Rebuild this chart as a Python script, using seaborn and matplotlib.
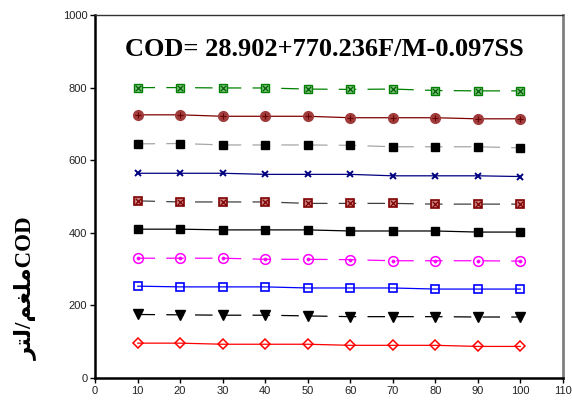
import matplotlib
matplotlib.use("Agg")
import matplotlib.pyplot as plt
import seaborn as sns
import numpy as np

# ---- data ----
x_vals = [10, 20, 30, 40, 50, 60, 70, 80, 90, 100]
s_green = [800, 800, 799, 799, 796, 795, 796, 792, 791, 791]
s_darkred_circle = [725, 725, 721, 721, 721, 717, 717, 717, 714, 714]
s_black_gray = [645, 646, 642, 642, 642, 641, 637, 637, 637, 634]
s_navy_x = [564, 564, 564, 561, 561, 561, 557, 557, 557, 555]
s_darkred_box = [488, 485, 485, 485, 481, 481, 481, 479, 479, 479]
s_black_solid = [410, 410, 408, 408, 408, 405, 405, 405, 402, 402]
s_magenta = [330, 330, 330, 327, 327, 326, 323, 323, 323, 322]
s_blue_square = [253, 251, 251, 251, 248, 248, 248, 245, 245, 245]
s_triangle = [175, 174, 173, 173, 171, 169, 169, 169, 168, 168]
s_diamond = [96, 96, 93, 93, 93, 90, 90, 90, 87, 87]

x_ticks = [0, 10, 20, 30, 40, 50, 60, 70, 80, 90, 100, 110]
y_ticks = [0, 200, 400, 600, 800, 1000]
title_text = "COD= 28.902+770.236F/M-0.097SS"
# y label (Arabic in visual order, presentation forms) + COD
ylabel_text = "\uFEAE\uFE98\uFEDF/\uFEE2\uFED0\uFEE0\uFEE3COD"

sns.set_style("white")
plt.rcParams['font.family'] = ['Liberation Sans', 'DejaVu Sans']

fig = plt.figure(figsize=(5.72, 4.05), dpi=100)
ax = fig.add_axes([95/572, 27/405, 468/572, 363/405])

dash = (0, (14, 9))
lw = 0.9

def series(y, color, ls, marker, ms, mfc, mec, mew=1.0, over=None):
    sns.lineplot(x=x_vals, y=y, ax=ax, color=color, linestyle=ls, lw=lw,
                 marker=marker, markersize=ms, markerfacecolor=mfc,
                 markeredgecolor=mec, markeredgewidth=mew, zorder=3)
    if over is not None:
        om, oc, osz, olw = over
        sns.scatterplot(x=x_vals, y=y, ax=ax, marker=om, color=oc, s=osz,
                        linewidth=olw, edgecolor=oc, zorder=4)

series(s_green, '#008000', dash, 's', 6, '#7fc27f', '#008000', 1.0, ('x', '#006000', 16, 0.9))
series(s_darkred_circle, '#800000', '-', 'o', 7, '#a03c3c', '#a03c3c', 1.0, ('+', '#6a0000', 20, 0.8))
series(s_black_gray, '#a6a6a6', dash, 's', 5.5, 'black', 'black', 1.0)
series(s_navy_x, '#000080', '-', 'x', 5, 'none', '#000080', 1.4)
series(s_darkred_box, '#404040', dash, 's', 6, '#c98080', '#800000', 1.2, ('x', '#800000', 16, 0.9))
series(s_black_solid, 'black', '-', 's', 5.5, 'black', 'black', 1.0)
series(s_magenta, '#ff00ff', dash, 'o', 7, 'none', '#ff00ff', 1.1, ('o', '#ff00ff', 5, 0.5))
series(s_blue_square, '#0000ff', '-', 's', 6, 'none', '#0000ff', 1.2)
series(s_triangle, 'black', dash, 'v', 6.5, 'black', 'black', 1.0)
series(s_diamond, '#ff0000', '-', 'D', 5.5, 'none', '#ff0000', 1.1)

ax.set_xlim(0, 110)
ax.set_ylim(0, 1000)
ax.set_xticks(x_ticks)
ax.set_yticks(y_ticks)
ax.tick_params(axis='both', direction='out', length=3.5, width=1, labelsize=8,
               colors='black', pad=2, bottom=True, left=True)
for lab in ax.get_xticklabels() + ax.get_yticklabels():
    lab.set_color('#222222')

ax.spines['left'].set_color('black')
ax.spines['left'].set_linewidth(1.8)
ax.spines['bottom'].set_color('black')
ax.spines['bottom'].set_linewidth(1.8)
ax.spines['top'].set_color('#333333')
ax.spines['top'].set_linewidth(1.0)
ax.spines['right'].set_color('#808080')
ax.spines['right'].set_linewidth(2.0)

ax.text(0.49, 0.905, title_text, transform=ax.transAxes, ha='center', va='center',
        fontsize=19, fontweight='bold', color='black',
        family=['Liberation Serif', 'DejaVu Serif'])

fig.text(25/572, (405 - 288)/405, ylabel_text, rotation=90, ha='center', va='center',
         fontsize=16.5, fontweight='bold', color='black',
         family=['Liberation Serif', 'DejaVu Sans'])

ax.set_xlabel('')
ax.set_ylabel('')
fig.savefig('out.png', dpi=100)
